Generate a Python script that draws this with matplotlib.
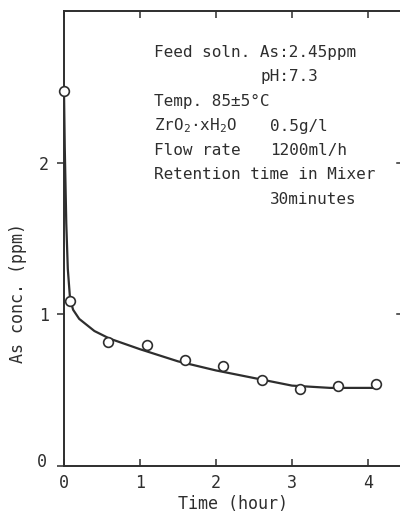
import matplotlib
matplotlib.use("Agg")
from matplotlib import pyplot as plt
from matplotlib.transforms import ScaledTranslation

# measured points (hour, ppm)
time_pts = [0.0, 0.08, 0.58, 1.09, 1.59, 2.09, 2.6, 3.1, 3.6, 4.1]
conc_pts = [2.47, 1.09, 0.82, 0.80, 0.70, 0.66, 0.57, 0.51, 0.53, 0.54]

# hand drawn fit curve
curve_t = [0.0, 0.01, 0.03, 0.05, 0.08, 0.12, 0.2, 0.4, 0.6, 1.0, 1.5, 2.0, 2.5, 3.0, 3.5, 4.1]
curve_c = [2.47, 2.1, 1.6, 1.3, 1.1, 1.03, 0.97, 0.89, 0.84, 0.77, 0.69, 0.63, 0.58, 0.53, 0.515, 0.515]

xticks = [0, 1, 2, 3, 4]
yticks = [0, 1, 2]

ink = "#2e2e2e"
mono = "DejaVu Sans Mono"
plt.rcParams["font.family"] = mono
plt.rcParams["mathtext.fontset"] = "custom"
plt.rcParams["mathtext.rm"] = mono
plt.rcParams["mathtext.it"] = mono

fig = plt.figure(figsize=(4.0, 5.16), dpi=100)
ax = fig.add_axes([0.16, 0.0969, 0.8455, 0.8818])

ax.plot(curve_t, curve_c, color=ink, lw=1.6, zorder=2)
ax.plot(time_pts, conc_pts, "o", ms=7, mfc="white", mec=ink, mew=1.2, zorder=3, clip_on=False)

ax.set_xlim(0, 4.45)
ax.set_ylim(0, 3)
ax.set_xticks(xticks)
ax.set_yticks(yticks)
ax.tick_params(axis="x", direction="in", top=True, length=5, width=1.1, labelsize=12, colors=ink, pad=6)
ax.tick_params(axis="y", direction="out", length=5, width=1.1, labelsize=12, colors=ink, pad=6)
for s in ax.spines.values():
    s.set_linewidth(1.4)
    s.set_color(ink)

# the "0" on the y axis sits a bit above the corner
lab0 = ax.get_yticklabels()[0]
lab0.set_transform(lab0.get_transform() + ScaledTranslation(-0.02, 0.06, fig.dpi_scale_trans))

# right side ticks pointing inwards
for y in [1, 2]:
    ax.plot([4.45, 4.38], [y, y], color=ink, lw=1.1, clip_on=False)

ax.set_xlabel("Time (hour)", fontsize=12, color=ink, labelpad=2)
ax.set_ylabel("As conc. (ppm)", fontsize=12, color=ink, labelpad=10)
ax.yaxis.set_label_coords(-0.11, 0.38)

fs = 11.5
lines = [
    (154, 53, "Feed soln. As:2.45ppm"),
    (260, 77, "pH:7.3"),
    (154, 101, "Temp. 85±5°C"),
    (154, 126, "ZrO$_2$·xH$_2$O"),
    (270, 126, "0.5g/l"),
    (154, 150, "Flow rate"),
    (270, 150, "1200ml/h"),
    (154, 175, "Retention time in Mixer"),
    (270, 199, "30minutes"),
]
for px, py, s in lines:
    fig.text(px / 400, 1 - py / 516, s, fontsize=fs, color=ink, ha="left", va="center")

fig.savefig("out.png", dpi=100)
